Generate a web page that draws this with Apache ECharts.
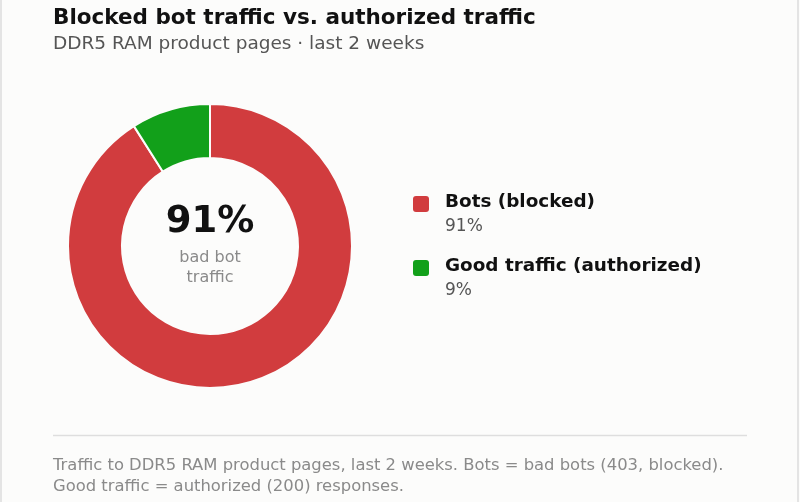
<!DOCTYPE html>
<html>
<head>
<meta charset="utf-8">
<script src="https://cdn.jsdelivr.net/npm/echarts@6/dist/echarts.min.js"></script>
<style>
  html, body { margin: 0; padding: 0; background: #fcfcfb; }
  #chart { width: 800px; height: 502px; }
</style>
</head>
<body>
<div id="chart"></div>
<script>
// data
var names = ['Bots (blocked)', 'Good traffic (authorized)'];
var shares = [91, 9];
var colors = ['#d13c3e', '#12a01a'];
var centerLines = ['bad bot', 'traffic'];
var footLines = [
  'Traffic to DDR5 RAM product pages, last 2 weeks. Bots = bad bots (403, blocked).',
  'Good traffic = authorized (200) responses.'
];

var font = 'DejaVu Sans, Noto Sans, sans-serif';
var bg = '#fcfcfb';

var chart = echarts.init(document.getElementById('chart'));

var pieData = names.map(function (n, i) {
  return { name: n, value: shares[i], itemStyle: { color: colors[i] } };
});

// card edges
var frameEls = [
  { type: 'line', shape: { x1: 1, y1: 0, x2: 1, y2: 502 }, style: { stroke: '#e4e4e4', lineWidth: 2 } },
  { type: 'line', shape: { x1: 798, y1: 0, x2: 798, y2: 502 }, style: { stroke: '#e4e4e4', lineWidth: 2 } }
];

// legend drawn as graphic, one block per slice
var legendEls = [];
names.forEach(function (n, i) {
  var y = 196 + i * 64;
  legendEls.push({
    type: 'rect', left: 413, top: y,
    shape: { width: 16, height: 16, r: 3 },
    style: { fill: colors[i] }
  });
  legendEls.push({
    type: 'text', x: 445, y: y + 6,
    style: { text: n, fill: '#111', font: 'bold 18.4px ' + font, verticalAlign: 'middle' }
  });
  legendEls.push({
    type: 'text', x: 445, y: y + 31,
    style: { text: shares[i] + '%', fill: '#555', font: '17px ' + font, verticalAlign: 'middle' }
  });
});

var centerEls = [
  {
    type: 'text', x: 210, y: 222,
    style: { text: shares[0] + '%', fill: '#111', font: 'bold 37px ' + font,
             align: 'center', verticalAlign: 'middle' }
  }
];
centerLines.forEach(function (t, i) {
  centerEls.push({
    type: 'text', x: 210, y: 258 + i * 20,
    style: { text: t, fill: '#8a8a8a', font: '16px ' + font,
             align: 'center', verticalAlign: 'middle' }
  });
});

var footEls = [
  {
    type: 'line', shape: { x1: 53, y1: 435.5, x2: 747, y2: 435.5 },
    style: { stroke: '#dedede', lineWidth: 1.5 }
  }
];
footLines.forEach(function (t, i) {
  footEls.push({
    type: 'text', x: 53, y: 466 + i * 21,
    style: { text: t, fill: '#8a8a8a', font: '16.4px ' + font, verticalAlign: 'middle' }
  });
});

var option = {
  backgroundColor: bg,
  animation: false,
  title: {
    text: 'Blocked bot traffic vs. authorized traffic',
    subtext: 'DDR5 RAM product pages · last 2 weeks',
    left: 53, top: 7,
    padding: 0,
    itemGap: 6,
    textStyle: { fontFamily: font, fontSize: 21.5, fontWeight: 'bold', color: '#111' },
    subtextStyle: { fontFamily: font, fontSize: 18.5, color: '#555' }
  },
  series: [{
    type: 'pie',
    center: [210, 246],
    radius: [88, 142],
    startAngle: 90,
    clockwise: true,
    silent: true,
    label: { show: false },
    labelLine: { show: false },
    itemStyle: { borderColor: bg, borderWidth: 2 },
    data: pieData
  }],
  graphic: frameEls.concat(legendEls, centerEls, footEls)
};

chart.setOption(option);
</script>
</body>
</html>
